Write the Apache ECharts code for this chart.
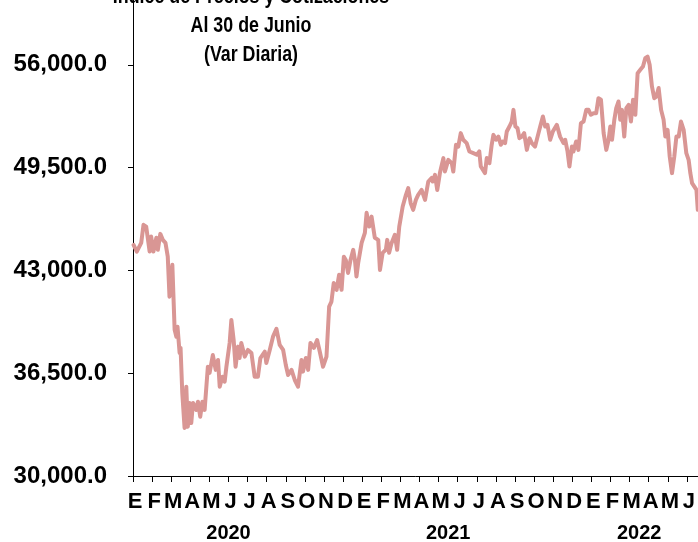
<!DOCTYPE html>
<html>
<head>
<meta charset="utf-8">
<script src="https://cdn.jsdelivr.net/npm/echarts@6/dist/echarts.min.js"></script>
<style>
  html, body { margin: 0; padding: 0; background: #fff; }
  #chart { width: 698px; height: 542px; }
</style>
</head>
<body>
<div id="chart"></div>
<script>
  // meses (etiquetas del eje) de ene-2020 a jun-2022
  const meses = ['E', 'F', 'M', 'A', 'M', 'J', 'J', 'A', 'S', 'O', 'N', 'D',
    'E', 'F', 'M', 'A', 'M', 'J', 'J', 'A', 'S', 'O', 'N', 'D',
    'E', 'F', 'M', 'A', 'M', 'J'];
  const anios = ['2020', '2021', '2022'];
  const anioPos = [5, 16.5, 26.5]; // posicion (en meses) de cada año

  // posicion en meses desde el 1-ene-2020 (0 = inicio, 30 = fin de junio 2022)
  const tiempo = [0.03, 0.20, 0.43, 0.55, 0.69, 0.87, 0.95, 1.07, 1.22, 1.30,
    1.43, 1.56, 1.70, 1.82, 1.91, 2.06, 2.18, 2.27, 2.33, 2.44,
    2.49, 2.58, 2.70, 2.79, 2.87, 2.96, 3.05, 3.14, 3.31, 3.40,
    3.52, 3.63, 3.75, 3.92, 4.01, 4.18, 4.33, 4.45, 4.54, 4.68,
    4.80, 4.89, 5.06, 5.15, 5.27, 5.37, 5.50, 5.58, 5.67, 5.85,
    6.02, 6.20, 6.37, 6.54, 6.67, 6.90, 6.98, 7.16, 7.33, 7.51,
    7.68, 7.86, 8.00, 8.12, 8.30, 8.47, 8.64, 8.82, 8.90, 9.05,
    9.17, 9.29, 9.47, 9.64, 9.78, 9.95, 10.13, 10.27, 10.39, 10.51,
    10.66, 10.79, 10.92, 11.04, 11.14, 11.26, 11.39, 11.53, 11.62, 11.70,
    11.79, 11.97, 12.14, 12.23, 12.37, 12.49, 12.66, 12.84, 12.93, 13.07,
    13.24, 13.31, 13.41, 13.54, 13.71, 13.83, 13.94, 14.12, 14.29, 14.41,
    14.54, 14.67, 14.81, 14.93, 15.11, 15.29, 15.46, 15.64, 15.69, 15.81,
    15.93, 16.07, 16.25, 16.33, 16.51, 16.69, 16.77, 16.91, 17.03, 17.16,
    17.29, 17.47, 17.61, 17.82, 18.00, 18.13, 18.21, 18.31, 18.43, 18.52,
    18.66, 18.78, 18.87, 19.01, 19.13, 19.26, 19.36, 19.48, 19.57, 19.71,
    19.83, 19.92, 20.02, 20.13, 20.23, 20.36, 20.48, 20.62, 20.76, 20.88,
    21.05, 21.23, 21.32, 21.46, 21.58, 21.70, 21.84, 21.98, 22.19, 22.36,
    22.54, 22.63, 22.75, 22.85, 22.98, 23.06, 23.20, 23.32, 23.45, 23.59,
    23.73, 23.85, 23.97, 24.11, 24.25, 24.37, 24.50, 24.64, 24.78, 24.90,
    24.99, 25.08, 25.20, 25.30, 25.42, 25.51, 25.60, 25.72, 25.83, 25.95,
    26.07, 26.18, 26.30, 26.42, 26.56, 26.70, 26.82, 26.94, 27.05, 27.17,
    27.29, 27.40, 27.52, 27.65, 27.78, 27.87, 27.99, 28.10, 28.22, 28.34,
    28.45, 28.57, 28.69, 28.83, 28.97, 29.09, 29.18, 29.27, 29.39, 29.50,
    29.57, 29.75, 29.97];

  // IPC, puntos
  const ipc = [44610, 44190, 44740, 45880, 45770, 44190, 45140, 44190, 45060, 44300,
    45310, 44930, 44740, 43870, 41340, 43350, 39240, 38810, 39440, 37780,
    38100, 35250, 33040, 35650, 33120, 34620, 33350, 34620, 34180, 34700,
    33750, 34700, 34180, 36910, 36520, 37650, 36710, 37340, 35650, 36280,
    35970, 36910, 38410, 39870, 38600, 36910, 38180, 37460, 38410, 37550,
    37970, 37780, 36280, 36280, 37460, 37860, 37150, 37970, 38810, 39300,
    38290, 37970, 37020, 36390, 36710, 36070, 35650, 37340, 36600, 37460,
    36710, 38410, 38100, 38600, 37860, 36910, 37550, 40710, 41030, 42210,
    41770, 42720, 41770, 43870, 43660, 42840, 43660, 44300, 43660, 42610,
    43470, 44740, 45370, 46640, 45770, 46400, 45060, 44930, 43030, 44110,
    44300, 44930, 44110, 44740, 45250, 44300, 45770, 47040, 47780, 48200,
    47250, 46830, 47460, 47780, 48090, 47460, 48620, 48850, 48620, 49040,
    48090, 49170, 50100, 49250, 49990, 49780, 49250, 50940, 50830, 51680,
    51260, 51050, 50520, 50410, 50310, 50520, 49570, 49670, 49150, 50100,
    49780, 50940, 51570, 51260, 51460, 50940, 51150, 51050, 51780, 52100,
    52410, 53150, 52100, 52000, 51360, 51460, 51680, 50620, 51360, 51050,
    50830, 51680, 52100, 52730, 52100, 52200, 51260, 51780, 52200, 51460,
    51050, 51260, 50520, 49570, 50830, 50520, 51150, 50620, 52310, 52410,
    53150, 53150, 52840, 52940, 52940, 53890, 53790, 51680, 50620, 51260,
    52100, 51260, 52520, 53260, 53680, 52520, 53150, 51460, 53260, 53470,
    52410, 53790, 52840, 55470, 55680, 55890, 56420, 56520, 56000, 54630,
    53890, 53990, 54530, 53150, 52520, 51460, 51890, 50200, 49150, 50200,
    51460, 51460, 52410, 51890, 50410, 49990, 49150, 48520, 48300, 48090,
    46830, 47200, 47520];

  const yTicks = [30000, 36500, 43000, 49500, 56000];

  const chart = echarts.init(document.getElementById('chart'));
  const fuente = "'Liberation Sans', Arial, sans-serif";

  const option = {
    backgroundColor: '#fff',
    animation: false,
    grid: {
      left: 133,
      right: -8, // el original esta recortado a la derecha
      top: -38, // y por arriba
      bottom: 66,
      outerBoundsMode: 'none',
      containLabel: false,
    },
    graphic: [
      {
        type: 'text',
        x: 251,
        y: -18,
        scaleX: 0.81,
        style: {
          text: 'Índice de Precios y Cotizaciones\nAl 30 de Junio\n(Var Diaria)',
          font: "bold 22px 'Liberation Sans', Arial, sans-serif",
          fill: '#000',
          align: 'center',
          verticalAlign: 'top',
          lineHeight: 29,
        },
      },
    ],
    xAxis: [
      {
        type: 'value',
        min: 0,
        max: 30,
        interval: 1,
        splitLine: { show: false },
        axisLine: { lineStyle: { color: '#000', width: 1 } },
        axisTick: { show: true, length: 6, lineStyle: { color: '#000' } },
        axisLabel: {
          margin: 15,
          padding: [0, 0, 0, 4],
          color: '#000',
          fontSize: 22,
          fontWeight: 'bold',
          fontFamily: fuente,
          showMaxLabel: false,
          formatter: function (v) {
            return meses[Math.round(v)] || '';
          },
        },
      },
      {
        type: 'value',
        min: 0,
        max: 30,
        interval: 0.5,
        position: 'bottom',
        offset: 31,
        splitLine: { show: false },
        axisLine: { show: false },
        axisTick: { show: false },
        axisLabel: {
          margin: 16,
          color: '#000',
          fontSize: 20,
          fontWeight: 'bold',
          fontFamily: fuente,
          formatter: function (v) {
            for (let k = 0; k < anioPos.length; k++) {
              if (Math.abs(v - anioPos[k]) < 0.01) return anios[k];
            }
            return '';
          },
        },
      },
    ],
    yAxis: {
      type: 'value',
      min: 30000,
      max: 62500,
      interval: 6500,
      splitLine: { show: false },
      axisLine: { show: true, lineStyle: { color: '#000', width: 1 } },
      axisTick: { show: true, length: 5, lineStyle: { color: '#000' } },
      axisLabel: {
        margin: 26,
        color: '#000',
        fontSize: 24,
        fontWeight: 'bold',
        fontFamily: fuente,
        formatter: function (v) {
          if (yTicks.indexOf(v) < 0) return '';
          return v.toLocaleString('en-US', { minimumFractionDigits: 1, maximumFractionDigits: 1 });
        },
      },
    },
    series: [
      {
        name: 'IPC',
        type: 'line',
        xAxisIndex: 0,
        showSymbol: false,
        data: tiempo.map((t, i) => [t, ipc[i]]),
        lineStyle: { color: '#D99694', width: 4, join: 'round', cap: 'round' },
        itemStyle: { color: '#D99694' },
      },
    ],
  };

  chart.setOption(option);
</script>
</body>
</html>
